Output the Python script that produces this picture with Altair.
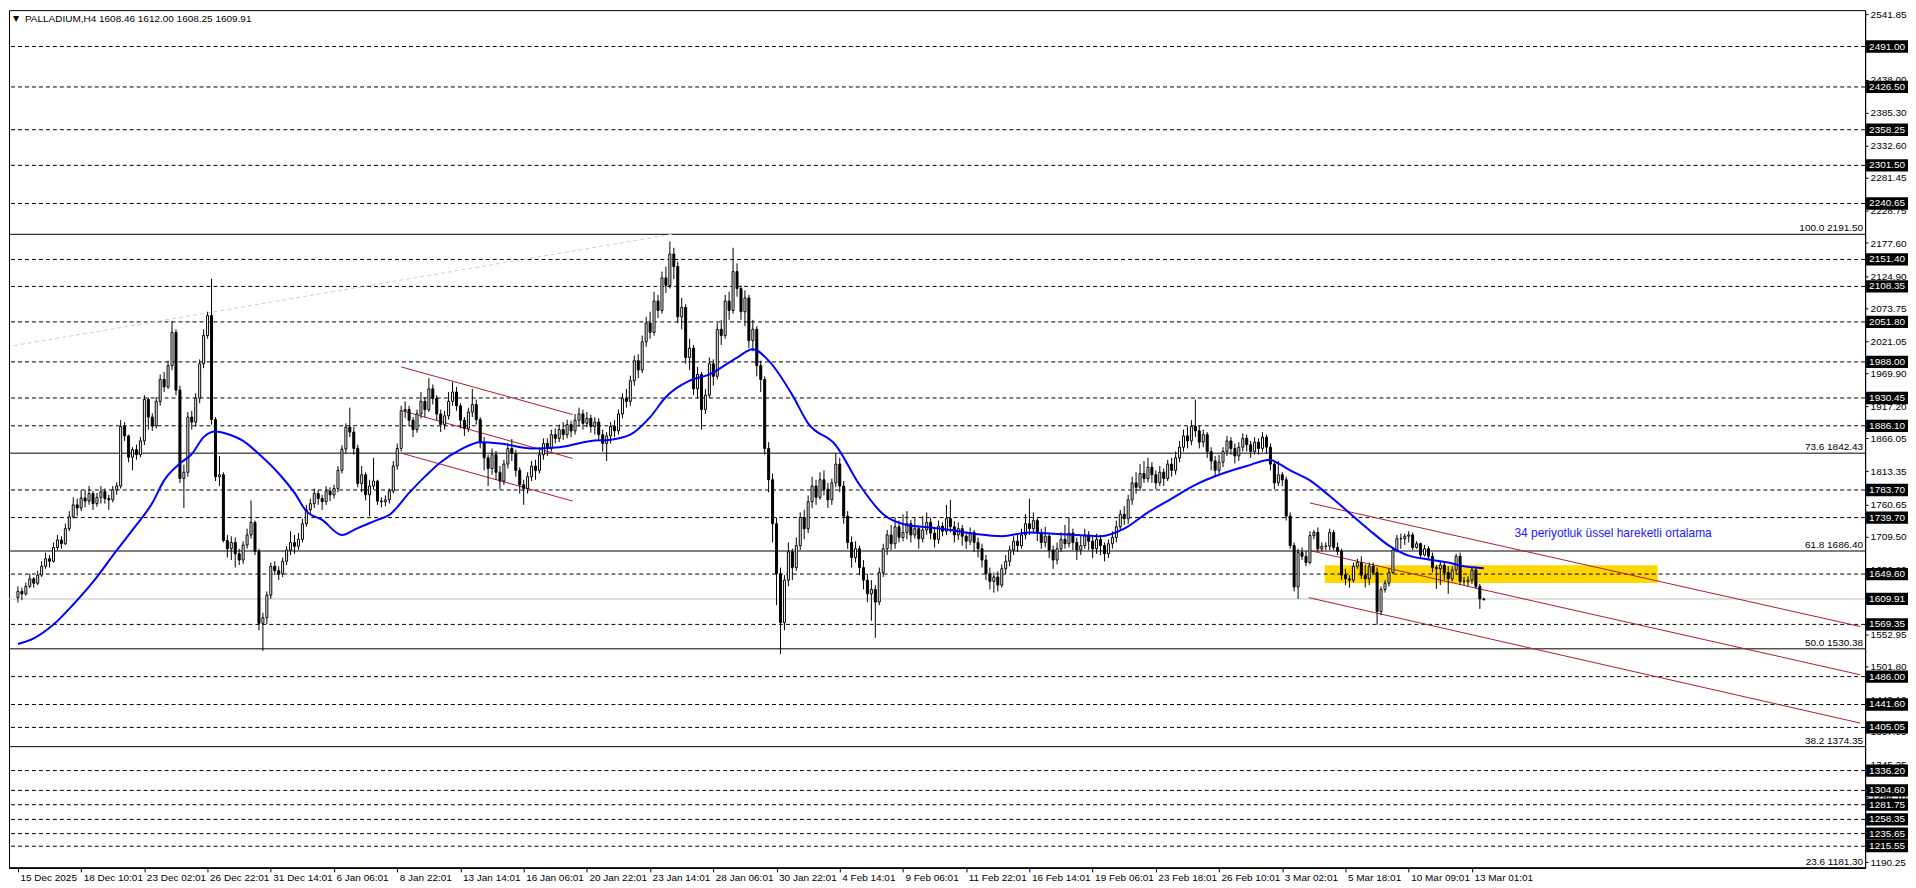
import altair as alt
import pandas as pd

# ---------------- data ----------------
SYMBOL = "PALLADIUM,H4"
FIRST_OPEN = 1612.0
LAST_OPEN = 1608.46

CLOSE = [
    1622,1618,1630,1642,1635,1648,1662,1674,1670,1692,
    1704,1698,1722,1741,1760,1755,1771,1766,1778,1762,
    1772,1781,1770,1768,1784,1790,1885,1870,1836,1848,
    1840,1862,1928,1900,1886,1925,1960,1948,1982,2035,
    1943,1802,1812,1900,1892,1930,1985,2030,2062,1896,
    1805,1808,1703,1690,1700,1682,1672,1696,1712,1732,
    1686,1571,1580,1616,1662,1655,1650,1670,1688,1700,
    1694,1705,1730,1752,1762,1778,1770,1765,1782,1776,
    1786,1815,1849,1884,1876,1850,1794,1808,1776,1790,
    1798,1766,1765,1768,1782,1822,1850,1910,1912,1895,
    1880,1905,1925,1912,1945,1930,1905,1888,1902,1925,
    1940,1918,1895,1882,1908,1920,1896,1860,1835,1818,
    1840,1812,1798,1825,1850,1842,1815,1792,1786,1805,
    1822,1815,1840,1858,1850,1872,1866,1880,1872,1888,
    1878,1895,1905,1890,1898,1885,1892,1872,1858,1870,
    1885,1878,1905,1930,1925,1958,1990,1975,2020,2050,
    2035,2085,2070,2122,2110,2160,2140,2060,2075,1995,
    2010,1945,1968,1912,1935,1985,1965,2040,2030,2085,
    2070,2132,2105,2068,2090,2022,2040,1982,1960,1850,
    1800,1730,1650,1572,1640,1685,1660,1695,1740,1722,
    1765,1790,1772,1800,1785,1768,1795,1825,1790,1742,
    1700,1676,1690,1660,1640,1618,1625,1605,1652,1690,
    1712,1698,1725,1708,1716,1730,1712,1722,1706,1720,
    1732,1715,1705,1726,1718,1738,1725,1712,1722,1710,
    1702,1716,1700,1690,1672,1650,1638,1645,1632,1658,
    1670,1688,1702,1695,1712,1730,1722,1735,1715,1700,
    1710,1688,1672,1690,1705,1698,1715,1700,1688,1695,
    1712,1702,1690,1705,1695,1682,1698,1708,1725,1745,
    1738,1768,1795,1788,1810,1802,1820,1808,1795,1812,
    1802,1825,1815,1835,1852,1870,1862,1885,1878,1860,
    1872,1845,1830,1815,1828,1845,1862,1850,1838,1852,
    1866,1856,1845,1860,1850,1868,1852,1825,1795,1808,
    1800,1742,1695,1629,1684,1678,1668,1711,1716,1690,
    1694,1694,1716,1692,1686,1648,1642,1640,1662,1668,
    1648,1642,1662,1652,1590,1625,1635,1652,1688,1706,
    1706,1710,1712,1692,1698,1680,1690,1678,1660,1658,
    1664,1652,1642,1656,1678,1638,1638,1640,1656,1630,
    1610,1609.91,
]

HIGH = [
    1630,1628,1636,1650,1645,1655,1670,1684,1680,1700,
    1712,1710,1730,1750,1772,1770,1783,1784,1790,1782,
    1779,1790,1786,1776,1790,1796,1895,1892,1872,1852,
    1856,1868,1935,1931,1906,1932,1968,1972,1990,2053,
    2040,1950,1824,1908,1910,1938,1992,2040,2068,2121,
    1900,1838,1812,1712,1710,1708,1690,1702,1722,1767,
    1735,1690,1588,1622,1668,1670,1662,1676,1694,1718,
    1712,1715,1738,1760,1770,1786,1784,1776,1790,1788,
    1792,1822,1855,1890,1915,1884,1856,1822,1812,1800,
    1835,1800,1772,1775,1786,1830,1858,1918,1925,1918,
    1900,1912,1940,1932,1962,1952,1935,1912,1910,1940,
    1956,1948,1922,1900,1915,1945,1928,1900,1868,1840,
    1850,1846,1822,1832,1858,1865,1848,1820,1800,1812,
    1830,1832,1848,1866,1866,1880,1882,1888,1892,1896,
    1894,1905,1915,1912,1908,1904,1900,1898,1880,1876,
    1892,1895,1912,1938,1945,1966,1998,2000,2030,2060,
    2068,2100,2095,2132,2140,2180,2170,2148,2090,2080,
    2025,2015,1980,1972,1945,1995,1992,2050,2055,2095,
    2100,2170,2145,2110,2102,2095,2055,2045,1990,1965,
    1860,1810,1740,1660,1648,1700,1690,1708,1748,1752,
    1775,1805,1800,1812,1815,1795,1802,1842,1835,1798,
    1750,1710,1702,1695,1672,1650,1640,1632,1660,1698,
    1720,1728,1740,1735,1745,1750,1736,1740,1726,1742,
    1748,1740,1722,1735,1732,1760,1768,1734,1732,1728,
    1716,1724,1720,1708,1698,1680,1660,1652,1654,1665,
    1680,1695,1710,1715,1722,1745,1770,1748,1740,1722,
    1725,1715,1695,1700,1716,1728,1740,1722,1708,1710,
    1722,1718,1710,1714,1712,1700,1705,1718,1735,1752,
    1758,1776,1805,1812,1825,1830,1835,1828,1815,1822,
    1818,1832,1835,1845,1862,1880,1885,1895,1928,1886,
    1880,1876,1852,1838,1840,1852,1870,1868,1858,1860,
    1874,1872,1862,1868,1866,1876,1872,1858,1830,1830,
    1812,1805,1748,1700,1690,1692,1686,1718,1720,1724,
    1700,1700,1722,1720,1700,1690,1658,1648,1668,1674,
    1678,1665,1668,1668,1660,1630,1640,1658,1692,1712,
    1714,1714,1718,1716,1702,1700,1696,1694,1684,1664,
    1670,1668,1662,1662,1682,1684,1645,1646,1660,1662,
    1634,1612.00,
]

LOW = [
    1604,1608,1615,1627,1628,1632,1645,1658,1660,1668,
    1688,1690,1696,1718,1738,1742,1750,1756,1760,1752,
    1757,1762,1762,1752,1764,1776,1786,1862,1828,1815,
    1832,1836,1855,1880,1878,1882,1918,1940,1945,1975,
    1935,1795,1755,1805,1880,1885,1922,1978,2025,1888,
    1798,1790,1700,1676,1672,1660,1664,1666,1690,1706,
    1680,1560,1527,1570,1610,1648,1640,1645,1664,1680,
    1682,1688,1700,1725,1745,1755,1760,1752,1760,1766,
    1770,1780,1810,1842,1868,1840,1788,1780,1767,1742,
    1784,1760,1756,1758,1762,1778,1816,1845,1898,1885,
    1868,1875,1898,1900,1908,1920,1895,1876,1880,1896,
    1918,1910,1882,1870,1876,1900,1888,1850,1815,1790,
    1808,1800,1785,1792,1818,1830,1805,1778,1760,1778,
    1798,1800,1810,1832,1838,1845,1858,1860,1864,1866,
    1868,1872,1885,1880,1884,1875,1872,1862,1845,1830,
    1858,1868,1872,1898,1915,1918,1950,1962,1970,2012,
    2025,2030,2058,2065,2098,2105,2120,2050,2040,1985,
    1975,1935,1930,1880,1905,1930,1950,1960,2015,2025,
    2055,2065,2092,2055,2045,2010,2005,1965,1940,1840,
    1780,1700,1600,1522,1560,1630,1640,1655,1688,1705,
    1715,1755,1760,1768,1775,1755,1760,1788,1780,1730,
    1690,1660,1668,1648,1625,1605,1575,1548,1600,1645,
    1680,1688,1690,1700,1702,1705,1700,1706,1690,1700,
    1712,1705,1692,1698,1710,1712,1716,1700,1704,1695,
    1690,1696,1685,1676,1660,1640,1625,1620,1622,1628,
    1650,1662,1680,1685,1690,1705,1712,1715,1702,1690,
    1692,1675,1658,1665,1685,1690,1692,1688,1672,1680,
    1690,1688,1675,1682,1680,1670,1675,1690,1700,1718,
    1728,1730,1760,1778,1782,1795,1796,1795,1785,1790,
    1790,1798,1805,1808,1828,1845,1850,1855,1868,1850,
    1852,1835,1815,1805,1810,1820,1838,1840,1826,1830,
    1845,1845,1835,1840,1840,1845,1842,1815,1785,1790,
    1790,1735,1690,1622,1610,1672,1662,1665,1705,1685,
    1686,1688,1688,1688,1680,1640,1632,1628,1636,1658,
    1642,1628,1632,1648,1569,1584,1620,1630,1650,1684,
    1690,1696,1700,1688,1690,1676,1678,1672,1652,1626,
    1632,1640,1618,1638,1648,1632,1632,1630,1634,1626,
    1594,1608.25,
]

# 34-period EMA, read at points along the blue line
EMA_BARS = [0,4,9,14,19,24,29,34,37,41,44,47,50,53,57,61,66,70,73,77,82,86,91,94,99,
            103,107,112,117,122,130,137,145,150,155,160,164,170,175,182,186,190,196,200,
            207,213,219,225,231,237,243,249,256,262,268,274,280,286,292,298,304,311,317,
            319,322,327,332,337,342,347,352,357,362,366,371]
EMA_VALUES = [1538,1547,1569,1601,1637,1679,1720,1763,1799,1826,1841,1868,1877,1873,1862,1841,
              1810,1779,1750,1736,1712,1723,1736,1744,1779,
              1805,1828,1848,1860,1858,1850,1852,1862,1864,1872,1900,1932,1958,1968,1995,2008,
              1990,1935,1890,1855,1792,1745,1728,1724,1719,1713,1710,1716,1714,1712,1710,1722,
              1748,1770,1792,1808,1822,1832,1826,1815,1799,1774,1747,1720,1695,1679,1673,1668,
              1662,1659]

DASHED_LEVELS = [2491.00, 2426.50, 2358.25, 2301.50, 2240.65, 2151.40, 2108.35, 2051.80,
                 1988.00, 1930.45, 1886.10, 1783.70, 1739.70, 1649.60, 1569.35, 1486.00,
                 1441.60, 1405.05, 1336.20, 1304.60, 1281.75, 1258.35, 1235.65, 1215.55]
CURRENT_PRICE = 1609.91

FIB_RATIOS = ["100.0", "73.6", "61.8", "50.0", "38.2", "23.6"]
FIB_LEVELS = [2191.50, 1842.43, 1686.40, 1530.38, 1374.35, 1181.30]
FIB_TREND_BARS = [-1, 165.5]
FIB_TREND_PRICES = [2014, 2191.5]

# trend channels: (segment id, bar, price)
CHANNEL_SEG = ["j_up", "j_up", "j_mid", "j_mid", "j_low", "j_low",
               "m_up", "m_up", "m_mid", "m_mid", "m_low", "m_low"]
CHANNEL_BAR = [97, 140.4, 97.3, 140.4, 97.3, 140.4,
               327, 466.25, 327, 466.25, 326.7, 466.25]
CHANNEL_PRICE = [1980, 1904, 1910, 1834, 1842, 1766,
                 1763, 1566, 1687, 1489, 1612, 1412]

ZONE_BARS = [330.75, 415]
ZONE_PRICES = [1635.4, 1663.7]

NOTE_TEXT = "34 periyotluk üssel hareketli ortalama"
NOTE_BAR = 378.75
NOTE_PRICE = 1715.6

# price-scale labels (the ones completely covered by a level box are left out)
AXIS_TICKS = [2541.85, 2438.00, 2385.30, 2332.60, 2281.45, 2228.75, 2177.60,
              2124.90, 2073.75, 2021.05, 1969.90, 1917.20, 1866.05, 1813.35, 1760.65,
              1709.50, 1656.80, 1552.95, 1501.80, 1449.10, 1397.95, 1345.25,
              1294.10, 1241.40, 1190.25]

TIME_LABELS = ["15 Dec 2025", "18 Dec 10:01", "23 Dec 02:01", "26 Dec 22:01",
               "31 Dec 14:01", "6 Jan 06:01", "8 Jan 22:01", "13 Jan 14:01",
               "16 Jan 06:01", "20 Jan 22:01", "23 Jan 14:01", "28 Jan 06:01",
               "30 Jan 22:01", "4 Feb 14:01", "9 Feb 06:01", "11 Feb 22:01",
               "16 Feb 14:01", "19 Feb 06:01", "23 Feb 18:01", "26 Feb 10:01",
               "3 Mar 02:01", "5 Mar 18:01", "10 Mar 09:01", "13 Mar 01:01"]
BARS_PER_LABEL = 16

# ---------------- layout ----------------
W = 1861
H = 860
X_DOMAIN = [-1, 466.25]
Y_DOMAIN = [1181, 2549]
FONT = "Liberation Sans"

n = min(len(CLOSE), len(HIGH), len(LOW))
opens = [FIRST_OPEN] + CLOSE[:n - 1]
opens[n - 1] = LAST_OPEN
rows = []
for i in range(n):
    o, c = opens[i], CLOSE[i]
    rows.append({"bar": i, "open": o, "close": c,
                 "high": max(HIGH[i], o, c), "low": min(LOW[i], o, c)})
df = pd.DataFrame(rows)

xs = alt.Scale(domain=X_DOMAIN, nice=False, zero=False)
ys = alt.Scale(domain=Y_DOMAIN, nice=False, zero=False)

label_array = "[" + ",".join("'" + t + "'" for t in TIME_LABELS) + "]"
x_axis = alt.Axis(values=[i * BARS_PER_LABEL for i in range(len(TIME_LABELS))],
                  labelExpr=f"{label_array}[round(datum.value / {BARS_PER_LABEL})]",
                  title=None, grid=False, orient="bottom", tickSize=4,
                  labelAlign="left", labelOffset=2, labelPadding=1,
                  labelFont=FONT, labelFontSize=10, labelColor="black",
                  domainColor="black", tickColor="black",
                  labelOverlap=False, labelFlush=False, labelBound=False)
y_axis = alt.Axis(values=AXIS_TICKS, format=".2f", orient="right", title=None,
                  grid=False, tickSize=3, labelPadding=2, labelFont=FONT,
                  labelFontSize=10, labelColor="black", domainColor="black",
                  tickColor="black", labelOverlap=False, labelFlush=False,
                  labelBound=False)


def X(field):
    return alt.X(f"{field}:Q", scale=xs, axis=x_axis)


def Y(field):
    return alt.Y(f"{field}:Q", scale=ys, axis=y_axis)


# yellow zone
zone = alt.Chart(pd.DataFrame({"b0": [ZONE_BARS[0]], "b1": [ZONE_BARS[1]],
                               "p0": [ZONE_PRICES[0]], "p1": [ZONE_PRICES[1]]})
                 ).mark_rect(color="#FFD700").encode(x=X("b0"), x2="b1:Q", y=Y("p0"), y2="p1:Q")

lv_df = pd.DataFrame({"level": DASHED_LEVELS})
dashed = alt.Chart(lv_df).mark_rule(color="black", strokeDash=[4, 3], strokeWidth=1).encode(y=Y("level"))

fib_df = pd.DataFrame({"level": FIB_LEVELS,
                       "label": [f"{r} {v:.2f}" for r, v in zip(FIB_RATIOS, FIB_LEVELS)]})
fib_lines = alt.Chart(fib_df).mark_rule(color="black", strokeWidth=1).encode(y=Y("level"))
fib_text = alt.Chart(fib_df).mark_text(align="right", baseline="bottom", dy=-1,
                                       font=FONT, fontSize=10, color="black").encode(
    x=alt.value(W - 2), y=Y("level"), text="label:N")

cur_line = alt.Chart(pd.DataFrame({"level": [CURRENT_PRICE]})).mark_rule(
    color="#C0C0C0", strokeWidth=1).encode(y=Y("level"))

fib_trend = alt.Chart(pd.DataFrame({"bar": FIB_TREND_BARS, "price": FIB_TREND_PRICES})
                      ).mark_line(color="#CFCFCF", strokeDash=[4, 3], strokeWidth=1).encode(
    x=X("bar"), y=Y("price"))

channels = alt.Chart(pd.DataFrame({"seg": CHANNEL_SEG, "bar": CHANNEL_BAR, "price": CHANNEL_PRICE})
                     ).mark_line(color="#B01E2A", strokeWidth=1).encode(
    x=X("bar"), y=Y("price"), detail="seg:N")

candles = alt.Chart(df)
wicks = candles.mark_rule(color="black", strokeWidth=1).encode(x=X("bar"), y=Y("low"), y2="high:Q")
bodies = candles.mark_bar(width=2, stroke="black", strokeWidth=1).encode(
    x=X("bar"), y=Y("open"), y2="close:Q",
    fill=alt.condition("datum.close >= datum.open", alt.value("white"), alt.value("black")))

ema = alt.Chart(pd.DataFrame({"bar": EMA_BARS, "ema": EMA_VALUES})).mark_line(
    color="#0000FF", strokeWidth=2, interpolate="monotone").encode(x=X("bar"), y=Y("ema"))

note = alt.Chart(pd.DataFrame({"bar": [NOTE_BAR], "price": [NOTE_PRICE], "t": [NOTE_TEXT]})
                 ).mark_text(align="left", baseline="middle", font=FONT, fontSize=12,
                             color="#2020FF").encode(x=X("bar"), y=Y("price"), text="t:N")

last = df.iloc[-1]
header_str = f"{SYMBOL}  {last['open']:.2f} {last['high']:.2f} {last['low']:.2f} {last['close']:.2f}"
header = alt.Chart(pd.DataFrame({"t": [header_str]})).mark_text(
    align="left", baseline="middle", font=FONT, fontSize=10, color="black").encode(
    x=alt.value(16), y=alt.value(9), text="t:N")
tri = alt.Chart(pd.DataFrame({"t": ["▼"]})).mark_text(
    align="left", baseline="middle", font="DejaVu Sans", fontSize=8, color="black").encode(
    x=alt.value(4), y=alt.value(9), text="t:N")

box_df = pd.DataFrame({"level": DASHED_LEVELS + [CURRENT_PRICE],
                       "label": [f"{v:.2f}" for v in DASHED_LEVELS + [CURRENT_PRICE]]})
boxes = alt.Chart(box_df).transform_calculate(
    top="datum.level + 9.8", bot="datum.level - 9.8").mark_rect(color="black").encode(
    x=alt.value(W + 1), x2=alt.value(W + 43), y=Y("top"), y2="bot:Q")
box_text = alt.Chart(box_df).mark_text(align="left", baseline="middle", font=FONT,
                                       fontSize=10, color="white").encode(
    x=alt.value(W + 4), y=Y("level"), text="label:N")

chart = alt.layer(zone, dashed, fib_lines, cur_line, fib_trend, channels, wicks, bodies,
                  ema, fib_text, note, header, tri, boxes, box_text).properties(
    width=W, height=H, padding=0, background="white").configure_view(
    stroke="black", strokeWidth=1)

chart.save("out.html", embed_options={"renderer": "svg", "actions": False})
